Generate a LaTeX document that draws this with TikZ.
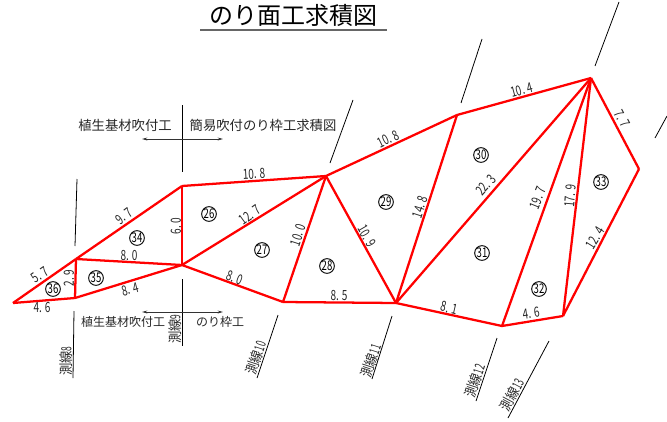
\documentclass[tikz,border=0pt]{standalone}
\usepackage{fontspec}
\setmainfont{Noto Sans CJK JP}
\usetikzlibrary{arrows.meta}
\newcommand{\dm}[2]{\scalebox{.72}[1]{#1.\kern3pt#2}}
\newcommand{\nar}[1]{\scalebox{.72}[1]{#1}}
\newcommand{\sv}[1]{\scalebox{.88}[1]{測線}\scalebox{.6}[1]{#1}}

\begin{document}
\begin{tikzpicture}[x=.75pt,y=-.75pt]
  \tikzset{slope/.style={draw=red,line width=1.7pt,line join=round},
    survey/.style={draw=black,line width=.6pt},
    widthmark/.style={draw=black!80,line width=.6pt,{Stealth[length=4pt,width=2.2pt]}-{Stealth[length=4pt,width=2.2pt]}},
    area/.style={draw,circle,line width=.7pt,inner sep=0pt,minimum size=11pt,font=\fontsize{10}{10}\selectfont},
    dim/.style={inner sep=0pt,text=black!85,font=\fontsize{10.5}{11}\selectfont},
    surveytext/.style={inner sep=0pt,text=black!85,font=\fontsize{10.5}{11}\selectfont},
    worktext/.style={inner sep=0pt,text=black!85,font=\fontsize{10}{11}\selectfont}}
  \useasboundingbox (0,0) rectangle (667,421);

  % title
  \node [inner sep=0pt,font=\fontsize{18}{20}\selectfont] (title) at (293,15) {のり面工求積図};
  \coordinate (ul1) at (200,30);
  \coordinate (ul2) at (387,30);
  \draw [draw=black!60,line width=.9pt] (ul1) -- (ul2);

  % outline corners
  \coordinate (A) at (13,303);
  \coordinate (B) at (75,298);
  \coordinate (C) at (76,259);
  \coordinate (D) at (182,265);
  \coordinate (E) at (182,186);
  \coordinate (F) at (326,176);
  \coordinate (G) at (283,302);
  \coordinate (H) at (396,303);
  \coordinate (I) at (457,115);
  \coordinate (J) at (591,78);
  \coordinate (K) at (639,169);
  \coordinate (L) at (563,316);
  \coordinate (M) at (502,326);

  % survey lines
  \coordinate (s8a) at (77,179);   \coordinate (s8b) at (75,246);
  \coordinate (s8c) at (74,311);   \coordinate (s8d) at (73,378);
  \coordinate (s9a) at (182,105);  \coordinate (s9b) at (182,172);
  \coordinate (s9c) at (182,279);  \coordinate (s9d) at (182,346);
  \coordinate (s10a) at (353,100); \coordinate (s10b) at (330,163);
  \coordinate (s10c) at (278,315); \coordinate (s10d) at (257,378);
  \coordinate (s11a) at (482,39);  \coordinate (s11b) at (461,103);
  \coordinate (s11c) at (392,316); \coordinate (s11d) at (372,379);
  \coordinate (s12a) at (619,2);   \coordinate (s12b) at (595,66);
  \coordinate (s12c) at (497,338); \coordinate (s12d) at (476,401);
  \coordinate (s13a) at (667,116); \coordinate (s13b) at (655,138);
  \coordinate (s13c) at (549,341); \coordinate (s13d) at (508,418);
  \foreach \i/\j in {s8a/s8b,s8c/s8d,s9a/s9b,s9c/s9d,s10a/s10b,s10c/s10d,s11a/s11b,s11c/s11d,s12a/s12b,s12c/s12d,s13a/s13b,s13c/s13d}
    \draw [survey] (\i) -- (\j);

  \node [surveytext,rotate=90] (n8) at (66,361) {\sv{8}};
  \node [surveytext,rotate=90] (n9) at (175,329) {\sv{9}};
  \node [surveytext,rotate=72] (n10) at (256,358) {\sv{10}};
  \node [surveytext,rotate=72] (n11) at (371,361) {\sv{11}};
  \node [surveytext,rotate=72] (n12) at (475,381) {\sv{12}};
  \node [surveytext,rotate=62] (n13) at (512,395) {\sv{13}};

  % width marks and work names
  \coordinate (w1) at (142,139); \coordinate (w2) at (223,139);
  \coordinate (w3) at (142,312); \coordinate (w4) at (223,312);
  \draw [widthmark] (w1) -- (w2);
  \draw [widthmark] (w3) -- (w4);
  \node [worktext] (t1) at (125,125) {植生基材吹付工};
  \node [worktext] (t2) at (263,125) {簡易吹付のり枠工求積図};
  \node [worktext,font=\fontsize{9}{11}\selectfont] (t3) at (123,322) {植生基材吹付工};
  \node [worktext,font=\fontsize{9}{11}\selectfont] (t4) at (220,322) {のり枠工};

  % triangles
  \foreach \i/\j in {A/B,A/C,B/C,B/D,C/D,C/E,D/E,E/F,D/F,D/G,F/G,G/H,F/H,F/I,I/H,I/J,H/J,H/M,M/J,M/L,L/J,J/K,K/L}
    \draw [slope] (\i) -- (\j);

  % lengths
  \node [dim,rotate=35] (d1) at (40,275) {\dm{5}{7}};
  \node [dim,rotate=90] (d2) at (69,278) {\dm{2}{9}};
  \node [dim] (d3) at (42,308) {\dm{4}{6}};
  \node [dim,rotate=37] (d4) at (124,216) {\dm{9}{7}};
  \node [dim] (d5) at (129,256) {\dm{8}{0}};
  \node [dim,rotate=15] (d6) at (130,289) {\dm{8}{4}};
  \node [dim,rotate=90] (d7) at (176,226) {\dm{6}{0}};
  \node [dim,rotate=3] (d8) at (254,174) {\dm{10}{8}};
  \node [dim,rotate=36] (d9) at (250,215) {\dm{12}{7}};
  \node [dim,rotate=72] (d10) at (298,235) {\dm{10}{0}};
  \node [dim,rotate=-20] (d11) at (235,278) {\dm{8}{0}};
  \node [dim] (d12) at (339,296) {\dm{8}{5}};
  \node [dim,rotate=-60] (d13) at (367,236) {\dm{10}{9}};
  \node [dim,rotate=72] (d14) at (420,207) {\dm{14}{8}};
  \node [dim,rotate=26] (d15) at (388,139) {\dm{10}{8}};
  \node [dim,rotate=15] (d16) at (522,90) {\dm{10}{4}};
  \node [dim,rotate=48] (d17) at (486,185) {\dm{22}{3}};
  \node [dim,rotate=68] (d18) at (538,198) {\dm{19}{7}};
  \node [dim,rotate=85] (d19) at (570,196) {\dm{17}{9}};
  \node [dim,rotate=-62] (d20) at (622,119) {\dm{7}{7}};
  \node [dim,rotate=58] (d21) at (595,238) {\dm{12}{4}};
  \node [dim,rotate=-13] (d22) at (449,308) {\dm{8}{1}};
  \node [dim,rotate=8] (d23) at (531,313) {\dm{4}{6}};

  % area numbers
  \foreach \n/\x/\y in {26/209/214,27/262/250,28/327/266,29/386/202,30/481/155,31/482/253,32/539/289,33/601/182,34/137/238,35/96/278,36/53/289}
    \node [area] (a\n) at (\x,\y) {\nar{\n}};
\end{tikzpicture}
\end{document}
